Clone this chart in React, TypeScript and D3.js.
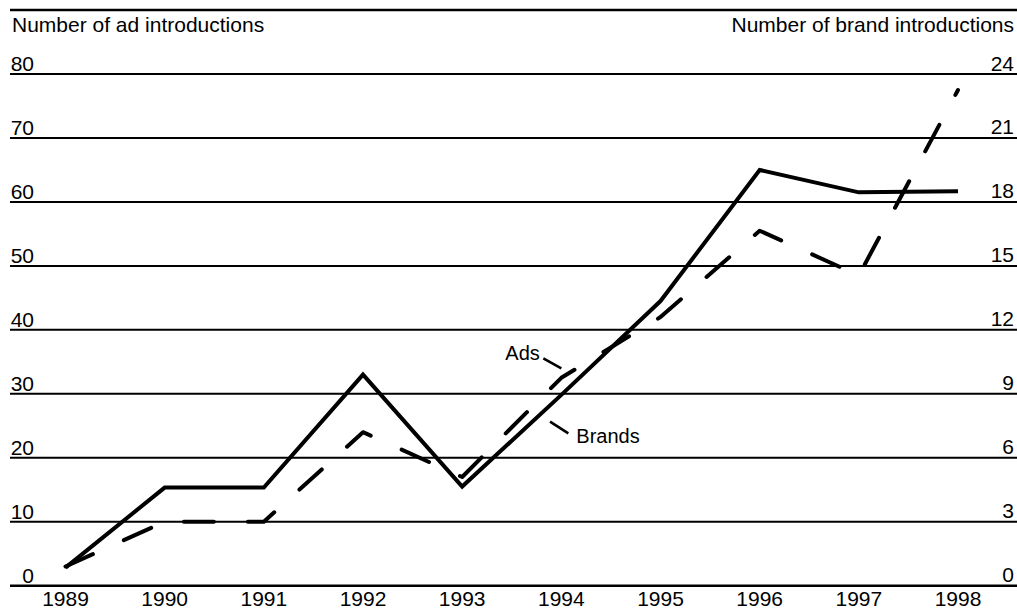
import React from "react";
import * as d3 from "d3";

const years = [1989, 1990, 1991, 1992, 1993, 1994, 1995, 1996, 1997, 1998];
const adIntroductions = [3, 10, 10, 24, 17, 32.5, 42, 55.5, 48.5, 77.5];
const brandIntroductions = [0.85, 4.6, 4.6, 9.9, 4.65, 8.95, 13.35, 19.5, 18.45, 18.5];
const leftTicks = [0, 10, 20, 30, 40, 50, 60, 70, 80];
const rightTicks = [0, 3, 6, 9, 12, 15, 18, 21, 24];
const leftTitle = "Number of ad introductions";
const rightTitle = "Number of brand introductions";

const W = 1017;
const H = 613;
const FONT = "'Liberation Sans', Arial, sans-serif";

export default function App() {
  const x = d3.scalePoint<number>().domain(years).range([65.5, 958]);
  const yL = d3.scaleLinear().domain([0, 80]).range([585.7, 74]);
  const yR = d3.scaleLinear().domain([0, 24]).range([585.7, 74]);

  const adsLine = d3
    .line<number>()
    .x((_, i) => x(years[i])!)
    .y((d) => yL(d))(adIntroductions)!;
  const brandsLine = d3
    .line<number>()
    .x((_, i) => x(years[i])!)
    .y((d) => yR(d))(brandIntroductions)!;

  const x94 = x(1994)!;
  const yAds94 = yL(adIntroductions[5]);

  return (
    <svg
      width={W}
      height={H}
      viewBox={`0 0 ${W} ${H}`}
      style={{ position: "absolute", left: 0, top: 0, display: "block", background: "#fff" }}
      fontFamily={FONT}
    >
      {/* top rule */}
      <line x1={10} x2={W} y1={10} y2={10} stroke="#000" strokeWidth={2.6} />
      <text x={12} y={32.3} fontSize={21} fill="#000">
        {leftTitle}
      </text>
      <text x={1014} y={32.3} fontSize={21} fill="#000" textAnchor="end">
        {rightTitle}
      </text>

      {/* gridlines */}
      {leftTicks.map((t) => (
        <line
          key={"g" + t}
          x1={10}
          x2={W}
          y1={yL(t)}
          y2={yL(t)}
          stroke="#000"
          strokeWidth={t === 0 ? 2.6 : 2}
        />
      ))}
      {leftTicks.map((t) => (
        <text key={"l" + t} x={34} y={yL(t) - 3} fontSize={21} textAnchor="end" fill="#000">
          {t}
        </text>
      ))}
      {rightTicks.map((t) => (
        <text key={"r" + t} x={1014} y={yR(t) - 3.5} fontSize={21} textAnchor="end" fill="#000">
          {t}
        </text>
      ))}
      {years.map((yr) => (
        <text key={"x" + yr} x={x(yr)!} y={606} fontSize={21} textAnchor="middle" fill="#000">
          {yr}
        </text>
      ))}

      {/* data lines */}
      <path d={brandsLine} fill="none" stroke="#000" strokeWidth={4} strokeLinejoin="miter" />
      <path
        d={adsLine}
        fill="none"
        stroke="#000"
        strokeWidth={4}
        strokeDasharray="30 34"
        strokeLinecap="round"
        strokeLinejoin="round"
      />

      {/* annotations */}
      <text x={x94 - 56} y={360} fontSize={20} fill="#000">
        Ads
      </text>
      <line x1={x94 - 18} y1={yAds94 - 19.5} x2={x94} y2={yAds94 - 9.5} stroke="#000" strokeWidth={2.6} />
      <text x={x94 + 15} y={443.3} fontSize={20} fill="#000">
        Brands
      </text>
      <line x1={x94 - 11.3} y1={421.7} x2={x94 + 7} y2={433.3} stroke="#000" strokeWidth={2.6} />
    </svg>
  );
}
